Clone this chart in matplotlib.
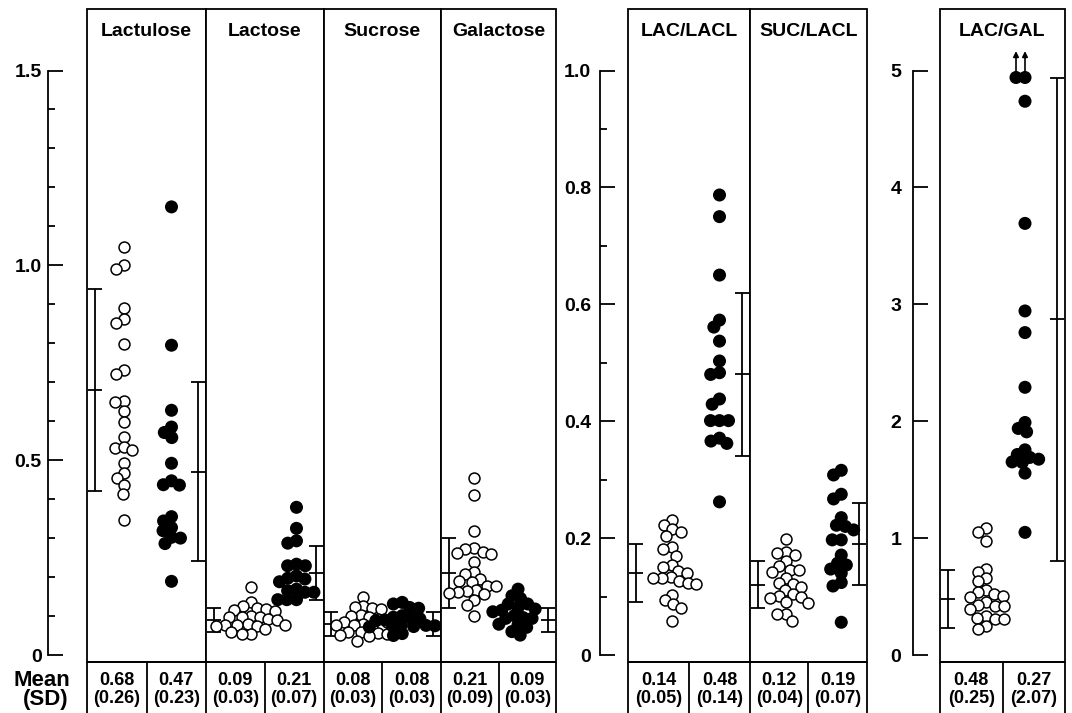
import numpy as np
import matplotlib
matplotlib.use("Agg")
import matplotlib.pyplot as plt
from matplotlib.patches import Rectangle
from matplotlib.ticker import FixedLocator, NullLocator

plt.rcParams['font.family'] = ['Liberation Sans', 'DejaVu Sans']
plt.rcParams['font.weight'] = 'bold'

# ---------------- data ----------------
panel_titles = ["Lactulose", "Lactose", "Sucrose", "Galactose",
                "LAC/LACL", "SUC/LACL", "LAC/GAL"]

lactulose_ctrl = [1.047, 1.000, 0.990, 0.891, 0.862, 0.851, 0.797, 0.732, 0.722, 0.653,
                  0.650, 0.626, 0.597, 0.559, 0.532, 0.534, 0.526, 0.492, 0.467, 0.453,
                  0.436, 0.413, 0.346]
lactulose_pat = [1.150, 0.795, 0.628, 0.585, 0.571, 0.558, 0.492, 0.447, 0.437, 0.436,
                 0.355, 0.344, 0.327, 0.319, 0.302, 0.300, 0.286, 0.189]

lactose_ctrl = [0.174, 0.135, 0.125, 0.120, 0.118, 0.116, 0.114, 0.101, 0.097, 0.097,
                0.097, 0.092, 0.090, 0.079, 0.077, 0.077, 0.077, 0.075, 0.074, 0.066,
                0.060, 0.054, 0.054]
lactose_pat = [0.379, 0.325, 0.293, 0.287, 0.233, 0.229, 0.229, 0.203, 0.197, 0.195,
               0.188, 0.169, 0.165, 0.161, 0.161, 0.142, 0.142, 0.142]

sucrose_ctrl = [0.150, 0.125, 0.122, 0.120, 0.118, 0.103, 0.101, 0.097, 0.092, 0.085,
                0.084, 0.080, 0.077, 0.077, 0.074, 0.071, 0.060, 0.058, 0.056, 0.055,
                0.051, 0.048, 0.037]
sucrose_pat = [0.135, 0.131, 0.122, 0.120, 0.101, 0.097, 0.095, 0.093, 0.090, 0.088,
               0.078, 0.076, 0.075, 0.074, 0.073, 0.072, 0.055, 0.050]

galactose_ctrl = [0.453, 0.411, 0.317, 0.274, 0.272, 0.265, 0.263, 0.259, 0.238, 0.212,
                  0.208, 0.195, 0.191, 0.188, 0.178, 0.176, 0.167, 0.165, 0.162, 0.160,
                  0.156, 0.142, 0.128, 0.099]
galactose_pat = [0.169, 0.152, 0.145, 0.131, 0.131, 0.122, 0.118, 0.115, 0.111, 0.101,
                 0.094, 0.094, 0.096, 0.079, 0.077, 0.071, 0.060, 0.051]

laclacl_ctrl = [0.231, 0.223, 0.215, 0.211, 0.204, 0.184, 0.181, 0.170, 0.154, 0.150,
                0.143, 0.141, 0.134, 0.132, 0.131, 0.126, 0.124, 0.121, 0.103, 0.094,
                0.087, 0.080, 0.058]
laclacl_pat = [0.787, 0.750, 0.650, 0.573, 0.561, 0.537, 0.503, 0.483, 0.480, 0.438,
               0.429, 0.401, 0.401, 0.401, 0.371, 0.366, 0.362, 0.262]

suclacl_ctrl = [0.199, 0.177, 0.174, 0.171, 0.160, 0.152, 0.146, 0.146, 0.142, 0.132,
                0.124, 0.121, 0.116, 0.112, 0.104, 0.101, 0.099, 0.097, 0.091, 0.089,
                0.070, 0.070, 0.058]
suclacl_pat = [0.316, 0.308, 0.275, 0.267, 0.235, 0.222, 0.220, 0.214, 0.197, 0.197,
               0.171, 0.157, 0.154, 0.147, 0.140, 0.124, 0.118, 0.056]

lacgal_ctrl = [1.085, 1.054, 0.977, 0.735, 0.712, 0.658, 0.630, 0.558, 0.536, 0.521,
               0.502, 0.493, 0.450, 0.430, 0.421, 0.416, 0.393, 0.331, 0.316, 0.308,
               0.308, 0.250, 0.222]
# the first two values lie above the axis range
lacgal_pat = [8.3, 8.4, 4.737, 3.692, 2.943, 2.758, 2.290, 1.989, 1.938, 1.909,
              1.755, 1.715, 1.690, 1.675, 1.652, 1.647, 1.556, 1.049]

ctrl_values = [lactulose_ctrl, lactose_ctrl, sucrose_ctrl, galactose_ctrl,
               laclacl_ctrl, suclacl_ctrl, lacgal_ctrl]
pat_values = [lactulose_pat, lactose_pat, sucrose_pat, galactose_pat,
              laclacl_pat, suclacl_pat, lacgal_pat]

# summary statistics printed under each column
mean_ctrl = [0.68, 0.09, 0.08, 0.21, 0.14, 0.12, 0.48]
sd_ctrl = [0.26, 0.03, 0.03, 0.09, 0.05, 0.04, 0.25]
mean_pat = [0.47, 0.21, 0.08, 0.09, 0.48, 0.19, 0.27]
sd_pat = [0.23, 0.07, 0.03, 0.03, 0.14, 0.07, 2.07]
# mean of the LAC/GAL patient bar (printed as 0.27 in the table)
bar_mean_pat = [0.47, 0.21, 0.08, 0.09, 0.48, 0.19, 2.87]

# ---------------- layout (pixels) ----------------
W, H = 1072, 713
fig = plt.figure(figsize=(W / 100, H / 100), dpi=100)

PANEL_TOP, PANEL_BOTTOM, TABLE_BOTTOM = 9, 662, 713
Y_ZERO_PX, Y_TOP_PX = 655, 70.5
LW = 1.3

groups = [
    dict(edges=[87, 206, 323.5, 441, 556], panels=[0, 1, 2, 3], top=1.5,
         major=[0, 0.5, 1.0, 1.5], labels=["0", "0.5", "1.0", "1.5"],
         minor=[0.1, 0.2, 0.3, 0.4, 0.6, 0.7, 0.8, 0.9, 1.1, 1.2, 1.3, 1.4],
         spine_x=48, pad=4.5),
    dict(edges=[628, 750, 867], panels=[4, 5], top=1.0,
         major=[0, 0.2, 0.4, 0.6, 0.8, 1.0], labels=["0", "0.2", "0.4", "0.6", "0.8", "1.0"],
         minor=[0.1, 0.3, 0.5, 0.7, 0.9], spine_x=600, pad=6.5),
    dict(edges=[940, 1065], panels=[6], top=5.0,
         major=[0, 1, 2, 3, 4, 5], labels=["0", "1", "2", "3", "4", "5"],
         minor=[], spine_x=913, pad=8.5),
]

# horizontal centre of each column inside its panel (fraction of panel width)
col_pos = [(0.31, 0.71), (0.38, 0.77), (0.34, 0.67), (0.29, 0.67),
           (0.36, 0.75), (0.31, 0.78), (0.37, 0.68)]

DOT_D = 9.0  # collision distance in pixels for the swarm layout


def px_axes(x0, x1, y0, y1):
    return fig.add_axes([x0 / W, 1 - y1 / H, (x1 - x0) / W, (y1 - y0) / H])


def swarm(y_px, d):
    """Beeswarm offsets (pixels) for points at vertical pixel positions y_px."""
    y_px = np.asarray(y_px, float)
    xs = np.zeros(len(y_px))
    placed = []
    for i in np.argsort(-y_px):
        y = y_px[i]
        cands = [0.0]
        for px, py in placed:
            dy = abs(y - py)
            if dy < d:
                dx = np.sqrt(d * d - dy * dy)
                cands += [px - dx, px + dx]
        cands.sort(key=lambda c: (round(abs(c), 6), c))
        for c in cands:
            if all((c - px) ** 2 + (y - py) ** 2 >= d * d - 1e-6 for px, py in placed):
                xs[i] = c
                break
        placed.append((xs[i], y))
    return xs


def draw_column(ax, values, centre, filled, ymax):
    vals = np.asarray(values, float)
    shown = np.minimum(vals, ymax)
    ypx = ax.transData.transform(np.c_[np.zeros_like(shown), shown])[:, 1]
    x0px = ax.transData.transform((centre, 0))[0]
    offs = swarm(ypx, DOT_D)
    xd = ax.transData.inverted().transform(np.c_[x0px + offs, ypx])[:, 0]
    if filled:
        ax.scatter(xd, shown, s=88, facecolor='black', edgecolor='none', zorder=3,
                   clip_on=False)
    else:
        ax.scatter(xd, shown, s=62, facecolor='white', edgecolor='black',
                   linewidths=1.1, zorder=3, clip_on=False)
    for x, v in zip(xd, vals):
        if v > ymax:
            ax.annotate('', xy=(x, ymax), xytext=(0, 19), textcoords='offset points',
                        arrowprops=dict(arrowstyle='<|-', color='black', lw=1.2,
                                        mutation_scale=8, shrinkA=0, shrinkB=4))


def draw_errbar(ax, mean, sd, side):
    w = 14 / ax.bbox.width  # cap width as axes fraction
    if side == 'left':
        x0, x1 = 0.008, 0.008 + w
    else:
        x1 = 0.992
        x0 = x1 - w
    xm = (x0 + x1) / 2
    kw = dict(colors='black', lw=LW, zorder=2, transform=ax.get_yaxis_transform())
    ax.vlines(xm, mean - sd, mean + sd, **kw)
    ax.hlines([mean - sd, mean, mean + sd], x0, x1, **kw)


for g in groups:
    edges = g['edges']
    top = g['top']
    scale = (Y_ZERO_PX - Y_TOP_PX) / top
    ylo = -(PANEL_BOTTOM - Y_ZERO_PX) / scale
    yhi = top + (Y_TOP_PX - PANEL_TOP) / scale
    ymax_shown = top + (Y_TOP_PX - 77.5) / scale

    for k, p in enumerate(g['panels']):
        ax = px_axes(edges[k], edges[k + 1], PANEL_TOP, PANEL_BOTTOM)
        ax.set_xlim(0, 1)
        ax.set_ylim(ylo, yhi)
        for s in ['top', 'right', 'bottom']:
            ax.spines[s].set_visible(False)
        ax.xaxis.set_major_locator(NullLocator())
        ax.add_patch(Rectangle((0, 0), 1, 1, transform=ax.transAxes, fill=False,
                               lw=LW, edgecolor='black', clip_on=False, zorder=4))
        if k == 0:
            sp = ax.spines['left']
            sp.set_position(('outward', (edges[0] - g['spine_x']) * 0.72))
            sp.set_bounds(0, top)
            sp.set_linewidth(LW)
            ax.yaxis.set_major_locator(FixedLocator(g['major']))
            ax.set_yticklabels(g['labels'])
            ax.yaxis.set_minor_locator(FixedLocator(g['minor']))
            ax.tick_params(axis='y', which='major', direction='in', length=10.8,
                           width=LW, labelsize=14, pad=g['pad'])
            ax.tick_params(axis='y', which='minor', direction='in', length=5,
                           width=LW)
        else:
            ax.spines['left'].set_visible(False)
            ax.yaxis.set_major_locator(NullLocator())

        ax.text(0.5, 1 - 22 / (PANEL_BOTTOM - PANEL_TOP), panel_titles[p],
                transform=ax.transAxes, ha='center', va='center',
                fontsize=14, fontweight='bold')

        cx, px_ = col_pos[p]
        draw_column(ax, ctrl_values[p], cx, False, ymax_shown)
        draw_column(ax, pat_values[p], px_, True, ymax_shown)
        draw_errbar(ax, mean_ctrl[p], sd_ctrl[p], 'left')
        draw_errbar(ax, bar_mean_pat[p], sd_pat[p], 'right')

    # table of means and SDs beneath the group
    n = 2 * len(g['panels'])
    tax = px_axes(edges[0], edges[-1], PANEL_BOTTOM, TABLE_BOTTOM)
    tax.set_xlim(0, n)
    tax.set_ylim(0, 1)
    tax.axis('off')
    cell_x = []
    for k in range(len(edges) - 1):
        cell_x += [edges[k], (edges[k] + edges[k + 1]) / 2]
    cell_x.append(edges[-1])
    cell_d = [(x - edges[0]) / (edges[-1] - edges[0]) * n for x in cell_x]
    tax.vlines(cell_d, 0, 1, colors='black', lw=LW, clip_on=False)
    tax.hlines(1, 0, n, colors='black', lw=LW, clip_on=False)
    for j, p in enumerate(g['panels']):
        for c, (m, s) in enumerate([(mean_ctrl[p], sd_ctrl[p]), (mean_pat[p], sd_pat[p])]):
            xc = (cell_d[2 * j + c] + cell_d[2 * j + c + 1]) / 2
            tax.text(xc, (TABLE_BOTTOM - 680.5) / (TABLE_BOTTOM - PANEL_BOTTOM),
                     f"{m:.2f}", ha='center', va='center', fontsize=13,
                     fontweight='bold')
            tax.text(xc, (TABLE_BOTTOM - 698.5) / (TABLE_BOTTOM - PANEL_BOTTOM),
                     f"({s:.2f})", ha='center', va='center', fontsize=13,
                     fontweight='bold')

fig.text(70 / W, 1 - 681 / H, "Mean", ha='right', va='center', fontsize=16,
         fontweight='bold')
fig.text(68 / W, 1 - 700 / H, "(SD)", ha='right', va='center', fontsize=16,
         fontweight='bold')

fig.savefig("out.png", dpi=100)
